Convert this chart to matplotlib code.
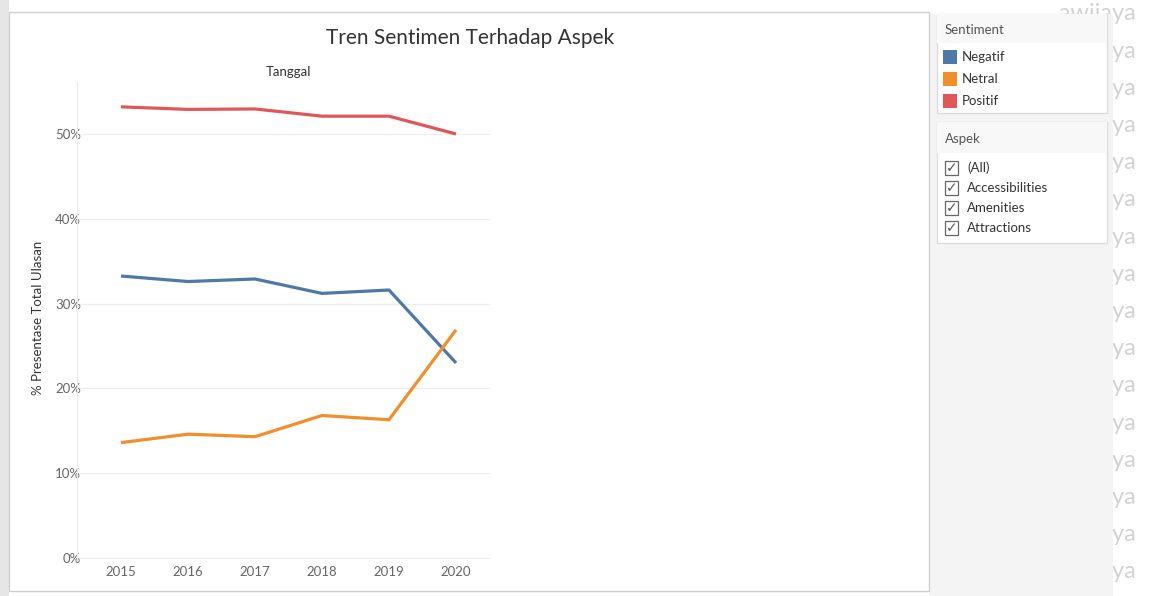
import matplotlib
matplotlib.use("Agg")
import matplotlib.pyplot as plt
from matplotlib.patches import Rectangle
from matplotlib.ticker import FuncFormatter

# sentiment share per year (% of total reviews)
years = [2015, 2016, 2017, 2018, 2019, 2020]
negatif = [33.25, 32.6, 32.9, 31.2, 31.6, 23.0]
netral = [13.6, 14.6, 14.3, 16.8, 16.3, 26.9]
positif = [53.2, 52.9, 52.95, 52.1, 52.1, 50.0]

series_names = ["Negatif", "Netral", "Positif"]
series_colors = ["#4e79a7", "#f28e2b", "#e15759"]
aspek_items = ["(All)", "Accessibilities", "Amenities", "Attractions"]
y_ticks = [0, 10, 20, 30, 40, 50]

W, H = 1176, 596
plt.rcParams["font.family"] = ["Lato", "DejaVu Sans"]

fig = plt.figure(figsize=(W / 100, H / 100), dpi=100)


def fx(px):
    return px / W


def fy(py):
    return 1 - py / H


def box(x0, y0, x1, y1, face, edge="none", z=1, lw=1.0):
    fig.add_artist(Rectangle((fx(x0), fy(y1)), fx(x1) - fx(x0), fy(y0) - fy(y1),
                             transform=fig.transFigure, facecolor=face,
                             edgecolor=edge, linewidth=lw, zorder=z))


# background watermark, mostly covered by the side panel
for i in range(16):
    fig.text(fx(1137), fy(14 + i * 37.2), "Brawijaya", ha="right", va="center",
             fontsize=17, color="#d2d2d2", zorder=0.5)

box(0, 0, 9, H, "#e6e6e6", z=0.4)
box(929, 14, 1113, H, "#f4f4f4", z=1)
box(929, 0, 1060, 14, "white", z=1)

# main view frame
box(9, 12, 929, 591, "white", edge="#cfcfcf", z=1)

# legend cards
box(937, 14, 1107, 113, "white", edge="#dcdcdc", z=2)
box(937, 14, 1107, 43, "#f8f8f8", z=2.1)
box(937, 122, 1107, 243, "white", edge="#dcdcdc", z=2)
box(937, 122, 1107, 153, "#f8f8f8", z=2.1)

fig.text(fx(945), fy(30), "Sentiment", fontsize=9.5, color="#555555",
         va="center", zorder=3)
for i, (name, col) in enumerate(zip(series_names, series_colors)):
    yy = 57 + i * 22
    box(943, yy - 7, 957, yy + 7, col, z=3)
    fig.text(fx(962), fy(yy), name, fontsize=9.5, color="#333333",
             va="center", zorder=3)

fig.text(fx(945), fy(139), "Aspek", fontsize=9.5, color="#555555",
         va="center", zorder=3)
for i, item in enumerate(aspek_items):
    yy = 168 + i * 20
    box(945, yy - 7, 958, yy + 7, "white", edge="#666666", z=3, lw=0.9)
    fig.text(fx(951.5), fy(yy), "\u2713", fontsize=10, color="#555555",
             ha="center", va="center", zorder=3.1,
             family=["DejaVu Sans"])
    fig.text(fx(967), fy(yy), item, fontsize=9.5, color="#333333",
             va="center", zorder=3)

# title and headers
fig.text(fx(470), fy(38), "Tren Sentimen Terhadap Aspek", ha="center",
         va="center", fontsize=15, color="#333333", zorder=3)
fig.text(fx(289), fy(72), "Tanggal", ha="center", va="center",
         fontsize=9.5, color="#333333", zorder=3)
fig.text(fx(38), fy(318), "% Presentase Total Ulasan", ha="center",
         va="center", rotation=90, fontsize=9.5, color="#333333", zorder=3)

# plot area
ax = fig.add_axes([fx(77), fy(560), fx(490) - fx(77), fy(82) - fy(560)])
ax.set_zorder(3)
ax.patch.set_alpha(0)

for vals, col in zip([negatif, netral, positif], series_colors):
    ax.plot(years, vals, color=col, linewidth=2.3, solid_capstyle="butt",
            solid_joinstyle="round", zorder=3)

ax.set_xlim(2015 - 44 / 67, 2020 + 34 / 67)
ax.set_ylim(-0.24, 56.13)
ax.set_xticks(years)
ax.set_yticks(y_ticks)
ax.yaxis.set_major_formatter(FuncFormatter(lambda v, p: f"{v:.0f}%"))
ax.grid(axis="y", color="#eeeeee", linewidth=0.9)
ax.set_axisbelow(True)
for side in ["top", "right", "bottom"]:
    ax.spines[side].set_visible(False)
ax.spines["left"].set_color("#ececec")
ax.tick_params(axis="both", length=0, labelsize=9.5, labelcolor="#666666")
ax.tick_params(axis="y", pad=-3)
ax.tick_params(axis="x", pad=4)

fig.savefig("out.png", dpi=100, facecolor="white")
